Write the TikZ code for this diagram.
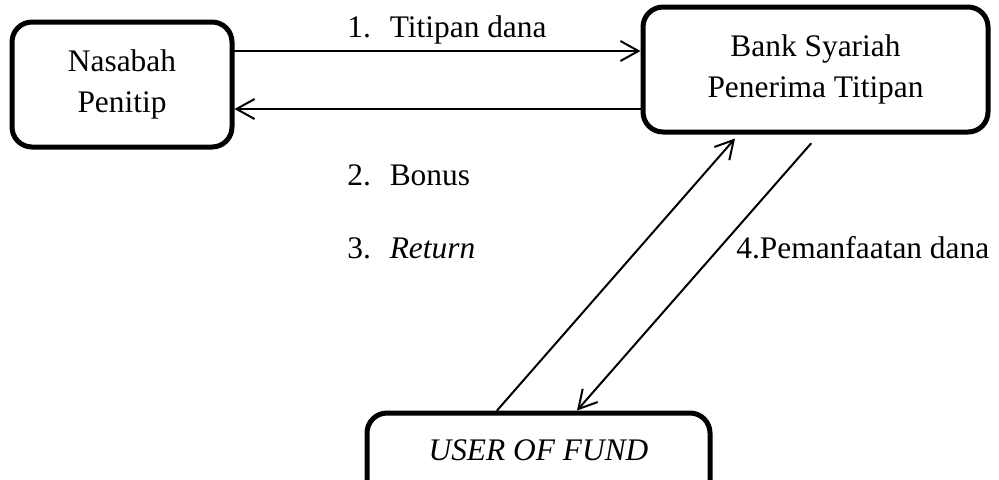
\documentclass[tikz,border=0pt]{standalone}
\usepackage{fontspec}
\setmainfont{Liberation Serif}
\usetikzlibrary{arrows.meta}
\tikzset{
  box/.style={draw, line width=2.5pt, rounded corners=10pt, align=center, inner sep=0pt},
  flow/.style={line width=1pt, -{Straight Barb[length=9pt,width=10pt,line width=1pt]}},
  txt/.style={inner sep=0pt, anchor=base west}
}
\begin{document}
\begin{tikzpicture}[x=0.5pt, y=-0.5pt, font=\fontsize{15.7}{20.5}\selectfont, line join=round, line cap=round]
	\useasboundingbox (0,0) rectangle (999,479);
	% parties
	\node[box, minimum width=110pt, minimum height=62.5pt] (nasabah) at (122,84.5) {Nasabah\\Penitip};
	\node[box, minimum width=172.5pt, minimum height=62.5pt] (bank) at (815.5,69.5) {Bank Syariah\\Penerima Titipan};
	\node[box, minimum width=171.5pt, text height=23.5pt, text depth=31.5pt, anchor=base] (user) at (538.5,460) {\textit{USER OF FUND}};
	% deposit and return between customer and bank
	\draw[flow] ([yshift=16.75pt]nasabah.east) -- node[above=3pt, inner sep=0pt, xshift=4.75pt] (titip) {1.\hspace{0.6em}Titipan dana} ([yshift=16.75pt]nasabah.east -| bank.west);
	\draw[flow] ([yshift=-12.25pt]nasabah.east -| bank.west) -- ([yshift=-12.25pt]nasabah.east);
	\node[txt] (bonus) at (347,185) {2.\hspace{0.6em}Bonus};
	\node[txt] (return) at (347,258) {3.\hspace{0.6em}\textit{Return}};
	% funds between bank and user
	\draw[flow] ([xshift=-20.75pt]user.north) -- ([xshift=-40.25pt,yshift=-2pt]bank.south);
	\draw[flow] ([xshift=-2.25pt,yshift=-4.5pt]bank.south) -- ([xshift=19.25pt]user.north);
	\node[txt] (pakai) at (736,258) {4.Pemanfaatan dana};
\end{tikzpicture}
\end{document}
